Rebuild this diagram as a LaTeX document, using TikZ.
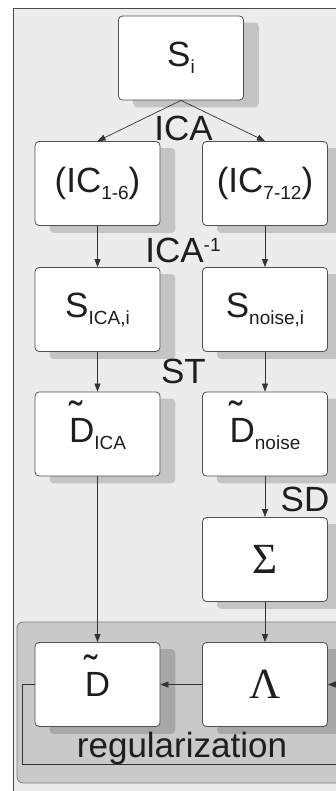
\documentclass[tikz,border=0pt]{standalone}
\usepackage{fontspec}
\setmainfont{Liberation Sans}
\newfontfamily\grk{Liberation Serif}
\usetikzlibrary{arrows.meta}
\pgfdeclarelayer{bg}
\pgfdeclarelayer{shad}
\pgfsetlayers{bg,shad,main}
\definecolor{bgc}{HTML}{EBECEC}
\definecolor{framec}{HTML}{4A4A4A}
\definecolor{regc}{HTML}{C9C9C9}
\definecolor{reglc}{HTML}{7A7A7A}
\definecolor{boxline}{HTML}{505050}
\definecolor{lnc}{HTML}{333333}
\definecolor{txt}{HTML}{1E1E1E}
\newcommand\sub[1]{\raisebox{-7pt}{\fontsize{19}{19}\selectfont #1}}
\newcommand\tilD{\makebox[0pt][l]{\raisebox{13pt}[0pt][0pt]{\fontsize{40}{40}\selectfont\char"02DC}}D}
\newcommand\grkbig[1]{{\grk\fontsize{43}{43}\selectfont #1}}
\begin{document}
\begin{tikzpicture}[x=1pt,y=-1pt,
  box/.style={draw=boxline, fill=white, rounded corners=4pt, minimum width=125pt,
    minimum height=84pt, inner sep=0pt, text=txt, font=\fontsize{35}{40}\selectfont,
    line width=0.8pt},
  shadow/.style={fill=black, fill opacity=0.17, rounded corners=4pt},
  arr/.style={draw=lnc, line width=0.7pt, -{Triangle[length=8pt,width=6pt]}},
  lbl/.style={text=txt, font=\fontsize{35}{40}\selectfont, inner sep=0pt},
]
\clip (0,0) rectangle (336,791);
\begin{pgfonlayer}{bg}
  \fill[white] (0,0) rectangle (336,791);
  \draw[draw=framec, fill=bgc, line width=0.9pt] (13,8) rectangle (420,830);
  \draw[draw=reglc, fill=regc, line width=0.8pt, rounded corners=6pt] (17,622) rectangle (420,783);
\end{pgfonlayer}

\node[box] (si)     at (181,58)     {S\sub{i}};
\node[box] (ic1)    at (97.5,183.5) {(IC\sub{1-6})};
\node[box] (ic2)    at (265,183.5)  {(IC\sub{7-12})};
\node[box] (sica)   at (97.5,309.5) {S\sub{ICA,i}};
\node[box] (snoise) at (265,309.5)  {S\sub{noise,i}};
\node[box] (dica)   at (97.5,434)   {\tilD\sub{ICA}};
\node[box] (dnoise) at (265,434)    {\tilD\sub{noise}};
\node[box] (sigma)  at (265,559.5)  {\grkbig{Σ}};
\node[box] (dt)     at (97.5,684.5) {\tilD};
\node[box] (lam)    at (265,684.5)  {\grkbig{Λ}};

\begin{pgfonlayer}{shad}
  \foreach \n in {si,ic1,ic2,sica,snoise,dica,dnoise,sigma,dt,lam}{
    \fill[shadow] ([shift={(15,7)}]\n.north west) rectangle ([shift={(15,7)}]\n.south east);
  }
\end{pgfonlayer}

\node[lbl] (lica)  at (183.5,128) {ICA};
\node[lbl] (licai) at (183,250)   {ICA\raisebox{11pt}{\fontsize{19}{19}\selectfont -1}};
\node[lbl] (lst)   at (183.5,371.5) {ST};
\node[lbl] (lsd)   at (305,499)   {SD};
\node[lbl, font=\fontsize{35}{40}\selectfont] (lreg) at (182,748) {regularization};

\coordinate (lb) at (22,764);
\coordinate (rb) at (360,764);

\draw[arr] (si.south) -- (ic1.north);
\draw[arr] (si.south) -- (ic2.north);
\draw[arr] (ic1) -- (sica);
\draw[arr] (ic2) -- (snoise);
\draw[arr] (sica) -- (dica);
\draw[arr] (snoise) -- (dnoise);
\draw[arr] (dica) -- (dt);
\draw[arr] (dnoise) -- (sigma);
\draw[arr] (sigma) -- (lam);
\draw[arr] (lam) -- (dt);
\draw[draw=lnc, line width=0.7pt] (dt.west) -| (lb) -- (rb);
\draw[arr] (rb) |- (lam.east);
\end{tikzpicture}
\end{document}
